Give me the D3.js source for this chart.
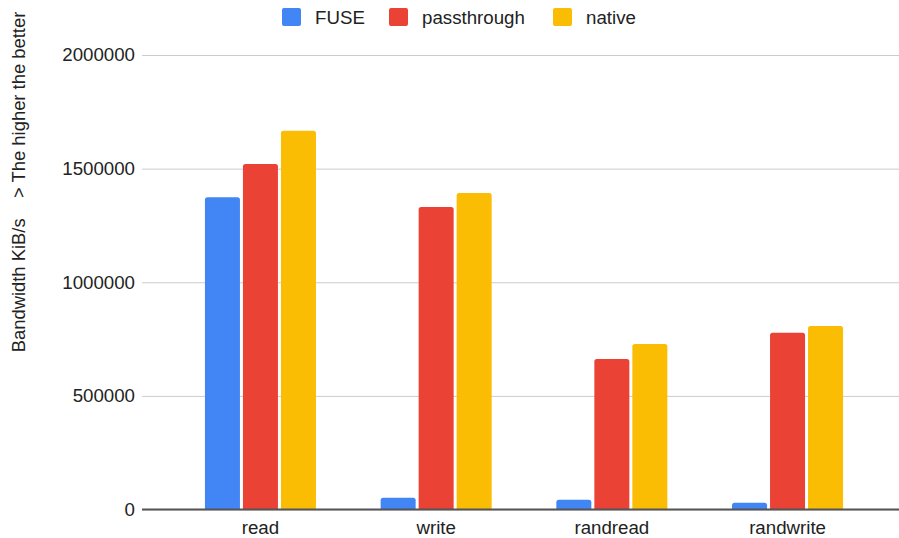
<!DOCTYPE html>
<html>
<head>
<meta charset="utf-8">
<script src="https://cdn.jsdelivr.net/npm/d3@7"></script>
<style>
  body { margin: 0; background: #fff; }
  text { font-family: "Liberation Sans", Arial, sans-serif; fill: #222; }
</style>
</head>
<body>
<div id="chart"></div>
<script>
// Chart data
var categories = ["read", "write", "randread", "randwrite"];
var seriesNames = ["FUSE", "passthrough", "native"];
var fuseValues = [1374000, 52000, 43000, 30000];
var passthroughValues = [1520000, 1331000, 662000, 778000];
var nativeValues = [1667000, 1393000, 728000, 808000];
var yTicks = [0, 500000, 1000000, 1500000, 2000000];
var colors = ["#4285F4", "#EA4335", "#FBBC04"];

var allValues = [fuseValues, passthroughValues, nativeValues];

var svgWidth = 899;
var svgHeight = 538;

var svg = d3.select("#chart")
    .append("svg")
    .attr("width", svgWidth)
    .attr("height", svgHeight);

// Scales
var x0 = d3.scaleBand()
    .domain(categories)
    .range([172.6, 875.4]);

var x1 = d3.scaleBand()
    .domain(seriesNames)
    .range([32.35, 143.35])
    .paddingInner(0.079);

var y = d3.scaleLinear()
    .domain([0, 2000000])
    .range([509.5, 55]);

// Gridlines + tick labels
var leftAxis = d3.axisLeft(y)
    .tickValues(yTicks)
    .tickSize(-(899 - 142))
    .tickPadding(7)
    .tickFormat(d3.format("d"));

var axisG = svg.append("g")
    .attr("transform", "translate(142, 0)")
    .call(leftAxis);

axisG.select(".domain").remove();
axisG.selectAll(".tick line")
    .attr("stroke", "#cccccc")
    .attr("stroke-width", 1);
axisG.selectAll(".tick text")
    .attr("font-size", "18.7px")
    .attr("fill", "#222")
    .attr("font-family", "Liberation Sans, Arial, sans-serif");

// Bars with rounded tops
function barPath(xPos, w, yTop, yBase, r) {
    var h = yBase - yTop;
    r = Math.min(r, h / 2, w / 2);
    return "M" + xPos + "," + yBase +
        "V" + (yTop + r) +
        "Q" + xPos + "," + yTop + " " + (xPos + r) + "," + yTop +
        "H" + (xPos + w - r) +
        "Q" + (xPos + w) + "," + yTop + " " + (xPos + w) + "," + (yTop + r) +
        "V" + yBase + "Z";
}

var barData = [];
categories.forEach(function(cat, i) {
    seriesNames.forEach(function(s, j) {
        barData.push({ cat: cat, series: s, value: allValues[j][i], color: colors[j] });
    });
});

svg.append("g")
    .selectAll("path")
    .data(barData)
    .enter()
    .append("path")
    .attr("d", d => barPath(x0(d.cat) + x1(d.series), x1.bandwidth(), y(d.value), y(0), 2.5))
    .attr("fill", d => d.color);

// Baseline
svg.append("line")
    .attr("x1", 142)
    .attr("x2", 899)
    .attr("y1", y(0))
    .attr("y2", y(0))
    .attr("stroke", "#555")
    .attr("stroke-width", 2);

// Category labels
var bottomAxis = d3.axisBottom(x0).tickSize(0).tickPadding(11);
var xAxisG = svg.append("g")
    .attr("transform", `translate(0, ${y(0)})`)
    .call(bottomAxis);
xAxisG.select(".domain").remove();
xAxisG.selectAll(".tick text")
    .attr("font-size", "18.7px")
    .attr("fill", "#222")
    .attr("font-family", "Liberation Sans, Arial, sans-serif");

// Legend
var legendX = [282, 389, 553];
var legend = svg.append("g");
seriesNames.forEach(function(s, j) {
    legend.append("rect")
        .attr("x", legendX[j])
        .attr("y", 8)
        .attr("width", 19)
        .attr("height", 18)
        .attr("rx", 2)
        .attr("fill", colors[j]);
    legend.append("text")
        .attr("x", legendX[j] + 33)
        .attr("y", 23.5)
        .attr("font-size", "18.7px")
        .text(s);
});

// Y axis title
svg.append("text")
    .attr("transform", "translate(25, 182) rotate(-90)")
    .attr("text-anchor", "middle")
    .attr("font-size", "18.4px")
    .attr("xml:space", "preserve")
    .style("white-space", "pre")
    .text("Bandwidth KiB/s    > The higher the better");
</script>
</body>
</html>
